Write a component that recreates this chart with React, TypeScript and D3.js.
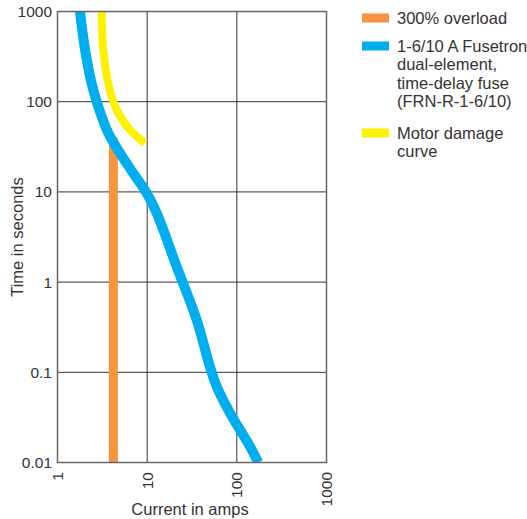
import React from "react";
import * as d3 from "d3";

const fuseAmps = [1.78, 2.03, 2.4, 2.85, 3.69, 4.98, 7.0, 9.87, 12.8, 21.3, 35.7, 50, 59.5, 83.7, 140, 173];
const fuseSecs = [1000, 375, 160, 88, 44.8, 26.9, 16.1, 9.7, 5.8, 1.49, 0.38, 0.116, 0.07, 0.0355, 0.0151, 0.01];
const motorAmps = [3.11, 3.24, 3.68, 4.57, 6.43, 9.45];
const motorSecs = [1000, 375, 160, 81, 48.7, 34.7];
const overloadAmps = [4.2, 4.2];
const overloadSecs = [0.01, 40];
const xTicks = [1, 10, 100, 1000];
const yTicks = [0.01, 0.1, 1, 10, 100, 1000];
const xTickLabels = ["1", "10", "100", "1000"];
const yTickLabels = ["0.01", "0.1", "1", "10", "100", "1000"];
const legendItems = [
  { color: "#f7943d", lines: ["300% overload"] },
  { color: "#00aeef", lines: ["1-6/10 A Fusetron", "dual-element,", "time-delay fuse", "(FRN-R-1-6/10)"] },
  { color: "#fff200", lines: ["Motor damage", "curve"] },
];

const FONT = "'Liberation Sans', Arial, sans-serif";
const TEXT = "#333";

export default function App() {
  const left = 57.5, right = 326.5, top = 11.5, bottom = 462.5;
  const x = d3.scaleLog().domain([1, 1000]).range([left, right]);
  const y = d3.scaleLog().domain([0.01, 1000]).range([bottom, top]);
  const line = d3
    .line<[number, number]>()
    .x((d) => x(d[0]))
    .y((d) => y(d[1]))
    .curve(d3.curveCatmullRom.alpha(0.5));
  const fuse = fuseAmps.map((a, i) => [a, fuseSecs[i]] as [number, number]);
  const motor = motorAmps.map((a, i) => [a, motorSecs[i]] as [number, number]);
  const overload = overloadAmps.map((a, i) => [a, overloadSecs[i]] as [number, number]);

  const legendY = [18, 46, 133];

  return (
    <svg
      width={527}
      height={519}
      style={{ position: "absolute", left: 0, top: 0, background: "#fff" }}
      fontFamily={FONT}
    >
      <defs>
        <clipPath id="plot">
          <rect x={left} y={top} width={right - left} height={bottom - top} />
        </clipPath>
      </defs>
      {xTicks.slice(1, -1).map((t) => (
        <line key={"gx" + t} x1={x(t)} x2={x(t)} y1={top} y2={bottom} stroke="#333" strokeWidth={1} />
      ))}
      {yTicks.slice(1, -1).map((t) => (
        <line key={"gy" + t} x1={left} x2={right} y1={y(t)} y2={y(t)} stroke="#333" strokeWidth={1} />
      ))}
      <g clipPath="url(#plot)">
        <path d={line(overload) || ""} fill="none" stroke="#f7943d" strokeWidth={9} />
        <path d={line(motor) || ""} fill="none" stroke="#fff200" strokeWidth={8} />
        <path d={line(fuse) || ""} fill="none" stroke="#00aeef" strokeWidth={10} />
      </g>
      <rect x={left} y={top} width={right - left} height={bottom - top} fill="none" stroke="#666" strokeWidth={1.5} />
      {yTicks.map((t, i) => (
        <text key={"yt" + t} x={52} y={y(t)} dy="0.35em" textAnchor="end" fontSize={15.5} fill={TEXT}>
          {yTickLabels[i]}
        </text>
      ))}
      {xTicks.map((t, i) => (
        <text
          key={"xt" + t}
          transform={`translate(${x(t)},${472}) rotate(-90)`}
          dy="0.35em"
          textAnchor="end"
          fontSize={15.5}
          fill={TEXT}
        >
          {xTickLabels[i]}
        </text>
      ))}
      <text x={190} y={515} textAnchor="middle" fontSize={16.5} fill={TEXT}>
        Current in amps
      </text>
      <text transform={`translate(23,${(top + bottom) / 2}) rotate(-90)`} textAnchor="middle" fontSize={16.5} fill={TEXT}>
        Time in seconds
      </text>
      {legendItems.map((item, i) => (
        <g key={"lg" + i}>
          <rect x={362} y={legendY[i] - 4.5} width={27} height={9} fill={item.color} />
          {item.lines.map((l, j) => (
            <text key={j} x={397} y={legendY[i] + j * 18.5} dy="0.35em" fontSize={16.5} fill={TEXT}>
              {l}
            </text>
          ))}
        </g>
      ))}
    </svg>
  );
}
